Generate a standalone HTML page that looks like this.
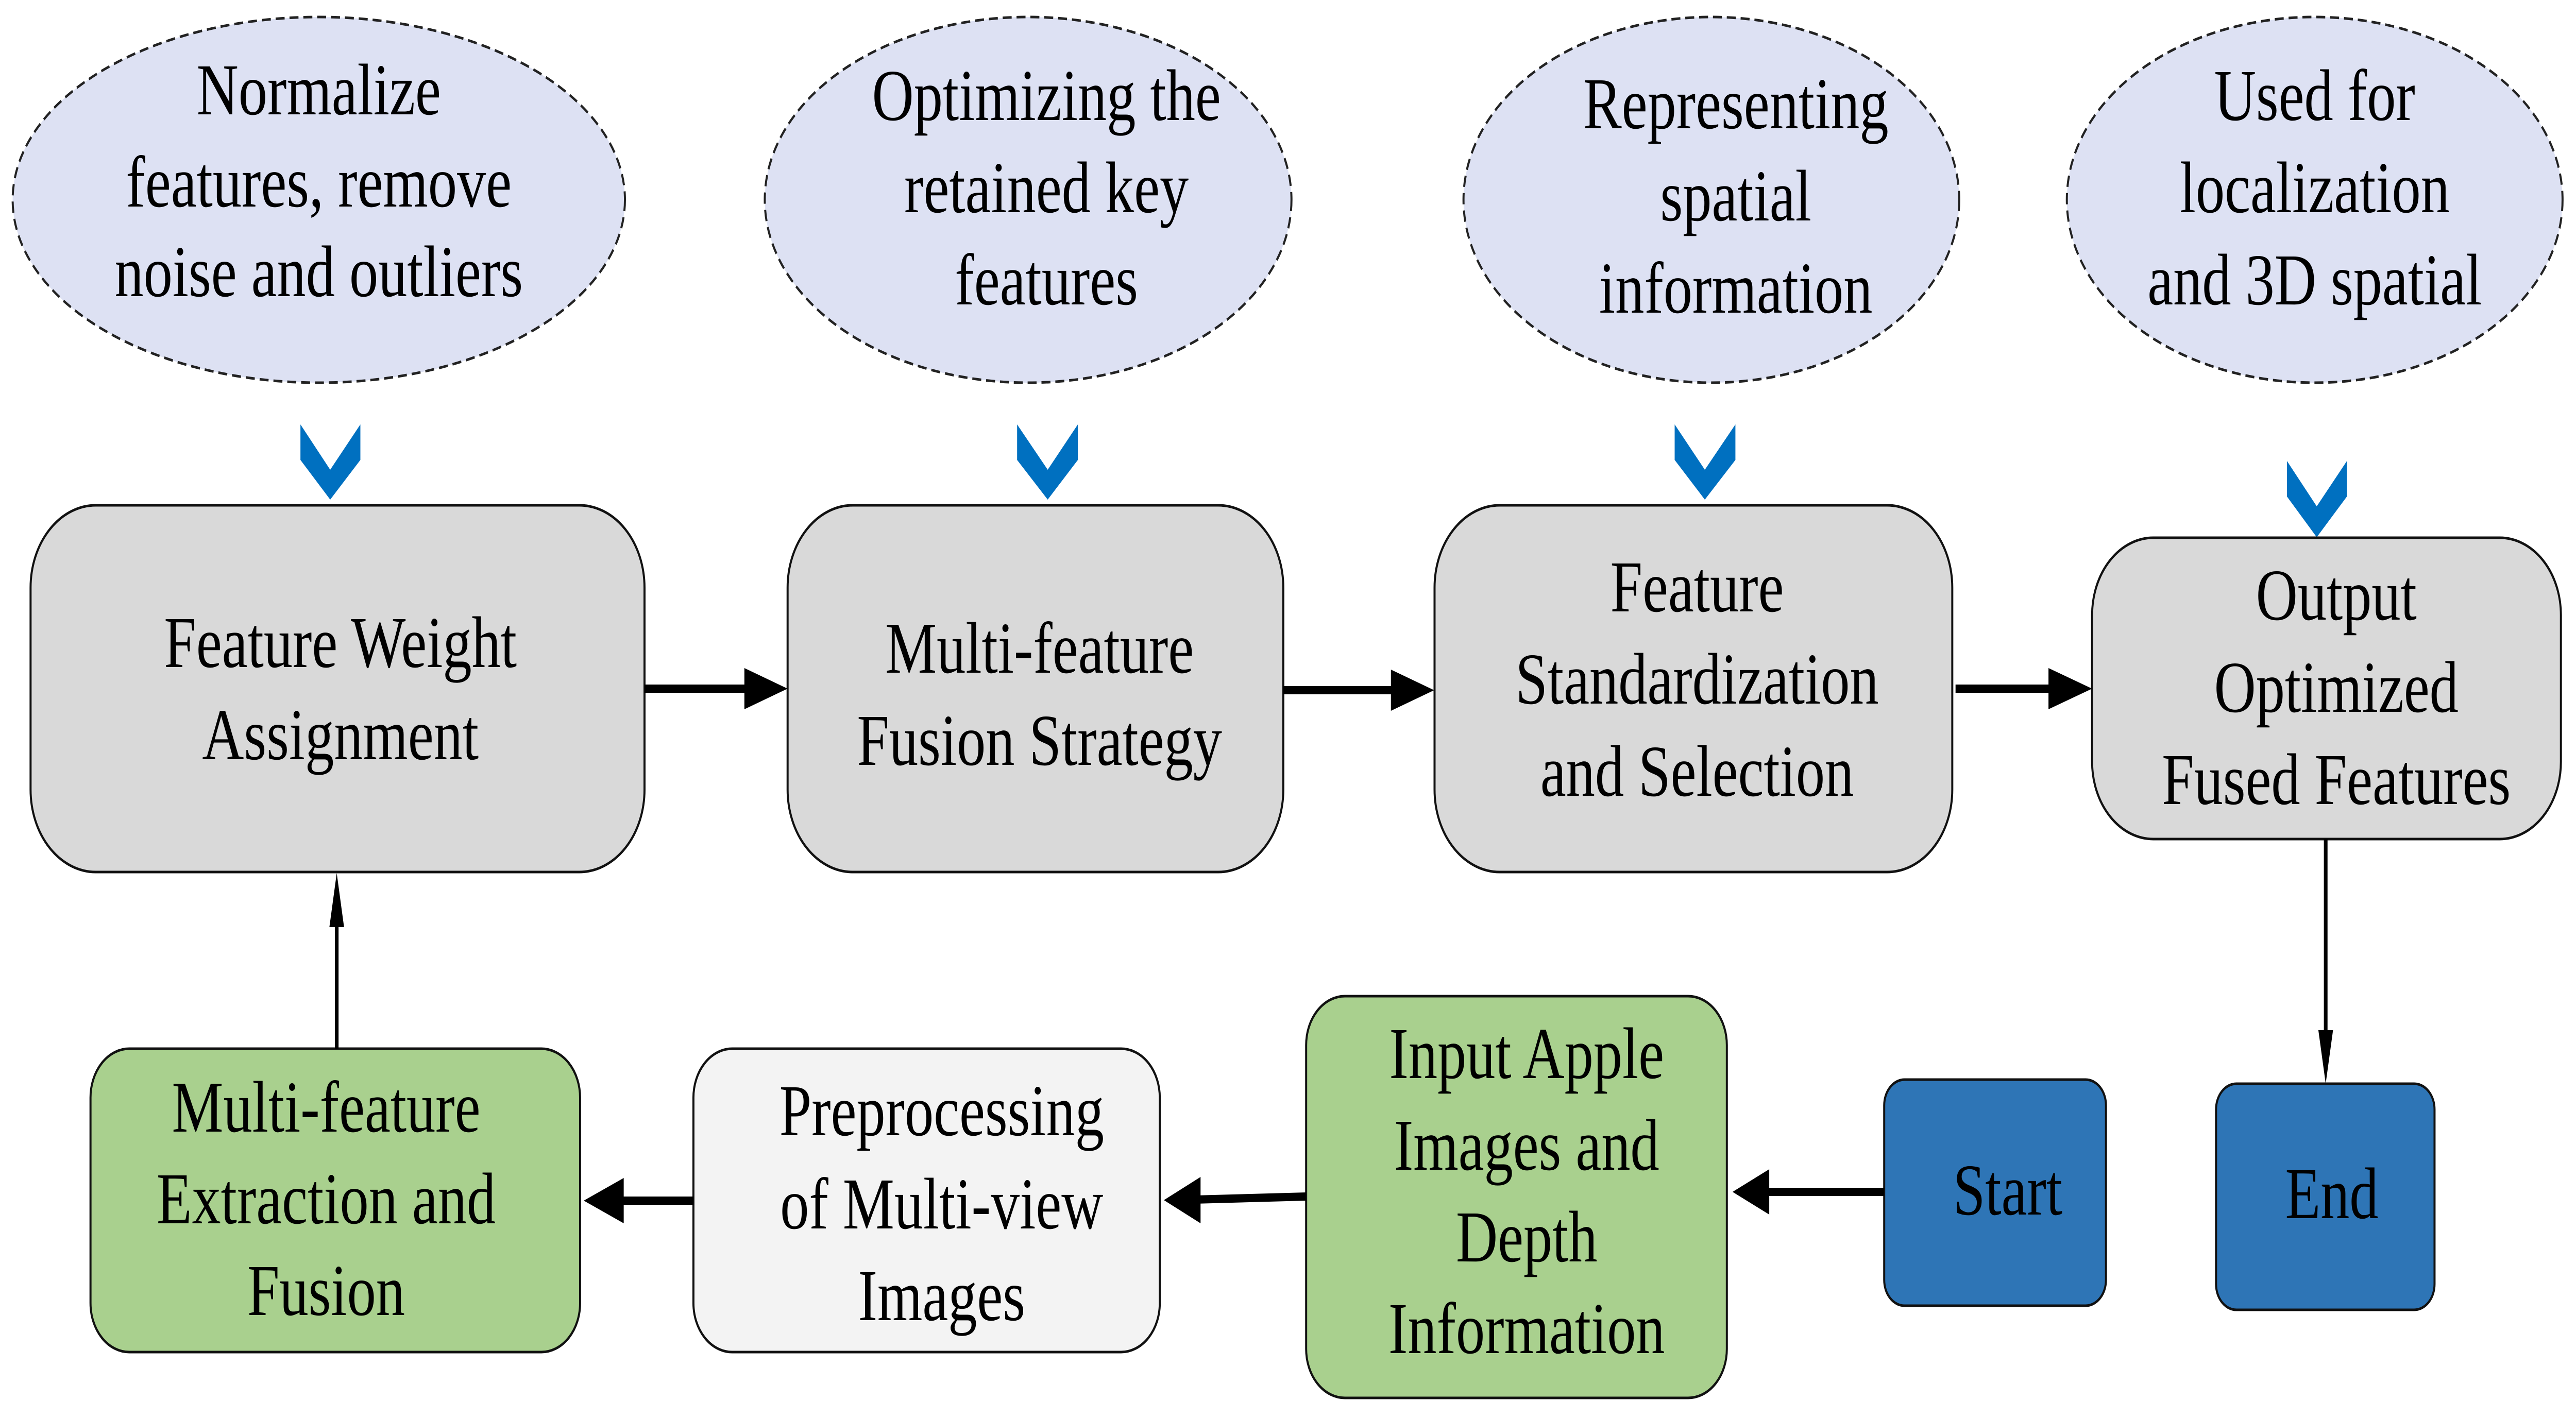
<!DOCTYPE html>
<html><head><meta charset="utf-8"><style>
html,body{margin:0;padding:0;background:#fff;overflow:hidden;width:100vw;height:100vh}
svg{display:block;width:100vw;height:100vh}
svg text{font-family:"Liberation Serif","Times New Roman",serif}
</style></head>
<body>
<svg xmlns="http://www.w3.org/2000/svg" viewBox="0 0 6319 2753" preserveAspectRatio="none">
<rect width="6319" height="2753" fill="#fff"/>
<g fill="#dde1f3" stroke="#222" stroke-width="5" stroke-dasharray="22,12">
<ellipse cx="782" cy="388" rx="751" ry="355"/>
<ellipse cx="2522" cy="388" rx="646" ry="355"/>
<ellipse cx="4198" cy="388" rx="608" ry="355"/>
<ellipse cx="5678" cy="388" rx="608" ry="355"/>
</g>
<g fill="#0070c0">
<polygon points="737,824 810,912 884,824 884,893 810,970 737,893"/>
<polygon points="2495,824 2570,912 2644,824 2644,893 2570,970 2495,893"/>
<polygon points="4108,824 4182,912 4257,824 4257,893 4182,970 4108,893"/>
<polygon points="5610,895 5683,983 5757,895 5757,964 5683,1043 5610,964"/>
</g>
<g stroke="#111" stroke-width="5">
<rect x="75" y="981" width="1506" height="712" rx="160" fill="#d9d9d9"/>
<rect x="1932" y="981" width="1216" height="712" rx="160" fill="#d9d9d9"/>
<rect x="3519" y="981" width="1270" height="712" rx="160" fill="#d9d9d9"/>
<rect x="5132" y="1044" width="1150" height="585" rx="150" fill="#d9d9d9"/>
<rect x="222" y="2036" width="1201" height="589" rx="95" fill="#a9d08e"/>
<rect x="1701" y="2036" width="1144" height="589" rx="95" fill="#f3f3f3"/>
<rect x="3204" y="1934" width="1032" height="780" rx="95" fill="#a9d08e"/>
<rect x="4622" y="2096" width="544" height="439" rx="50" fill="#2e75b6"/>
<rect x="5436" y="2104" width="536" height="439" rx="50" fill="#2e75b6"/>
</g>
<g stroke="#000" stroke-width="16" fill="none">
<line x1="1581" y1="1337" x2="1840" y2="1337"/>
<line x1="3148" y1="1340" x2="3420" y2="1340"/>
<line x1="4797" y1="1337" x2="5040" y2="1337"/>
<line x1="4622" y1="2314" x2="4330" y2="2314"/>
<line x1="3204" y1="2323" x2="2930" y2="2329"/>
<line x1="1701" y1="2331" x2="1510" y2="2331"/>
</g>
<g stroke="#000" stroke-width="9">
<line x1="5705" y1="1629" x2="5705" y2="2010"/>
<line x1="826" y1="2036" x2="826" y2="1790"/>
</g>
<g fill="#000">
<polygon points="1826,1297 1932,1337 1826,1377"/>
<polygon points="3412,1300 3518,1340 3412,1380"/>
<polygon points="5025,1297 5132,1337 5025,1377"/>
<polygon points="4340,2270 4250,2314 4340,2358"/>
<polygon points="2945,2285 2855,2330 2945,2375"/>
<polygon points="1530,2287 1432,2331 1530,2375"/>
<polygon points="5687,2000 5723,2000 5705,2104"/>
<polygon points="808,1800 844,1800 826,1695"/>
</g>
<g font-size="142" text-anchor="middle" fill="#000">
<text x="782" y="222">Normalize</text>
<text x="782" y="401">features, remove</text>
<text x="782" y="575">noise and outliers</text>
<text x="2567" y="233">Optimizing the</text>
<text x="2567" y="412">retained key</text>
<text x="2567" y="591">features</text>
<text x="4258" y="249">Representing</text>
<text x="4258" y="428">spatial</text>
<text x="4258" y="607">information</text>
<text x="5678" y="233">Used for</text>
<text x="5678" y="412">localization</text>
<text x="5678" y="591">and 3D spatial</text>
<text x="835" y="1295">Feature Weight</text>
<text x="835" y="1474">Assignment</text>
<text x="2550" y="1306">Multi-feature</text>
<text x="2550" y="1485">Fusion Strategy</text>
<text x="4163" y="1187">Feature</text>
<text x="4163" y="1366">Standardization</text>
<text x="4163" y="1545">and Selection</text>
<text x="5731" y="1203">Output</text>
<text x="5731" y="1382">Optimized</text>
<text x="5731" y="1561">Fused Features</text>
<text x="800" y="2197">Multi-feature</text>
<text x="800" y="2375">Extraction and</text>
<text x="800" y="2553">Fusion</text>
<text x="2310" y="2204">Preprocessing</text>
<text x="2310" y="2385">of Multi-view</text>
<text x="2310" y="2563">Images</text>
<text x="3745" y="2093">Input Apple</text>
<text x="3745" y="2271">Images and</text>
<text x="3745" y="2449">Depth</text>
<text x="3745" y="2627">Information</text>
<text x="4925" y="2358">Start</text>
<text x="5720" y="2365">End</text>
</g>
</svg>
</body></html>
